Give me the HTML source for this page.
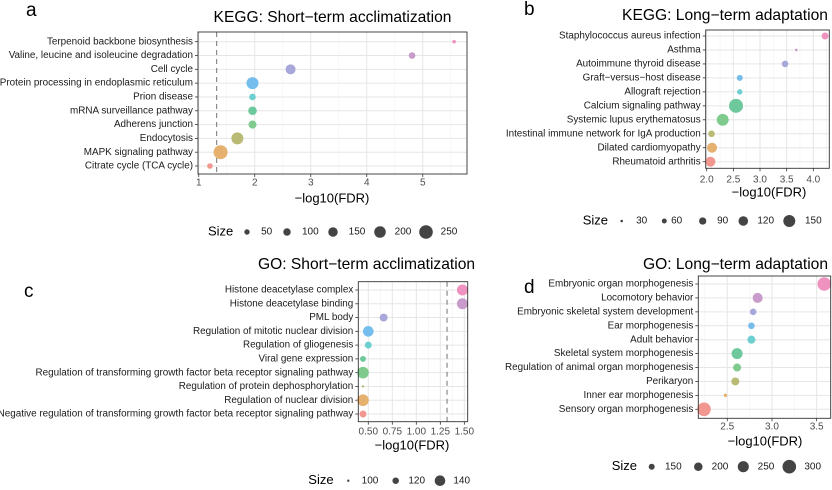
<!DOCTYPE html>
<html><head><meta charset="utf-8">
<style>
html,body{margin:0;padding:0;background:#fff;}
svg{display:block;font-family:"Liberation Sans",Arial,sans-serif;}
</style></head>
<body>
<svg id="chart" width="832" height="490" viewBox="0 0 832 490" xmlns="http://www.w3.org/2000/svg"></svg>
<script>
// ---- Panel a data (top to bottom) ----
const aTerms = ["Terpenoid backbone biosynthesis","Valine, leucine and isoleucine degradation","Cell cycle","Protein processing in endoplasmic reticulum","Prion disease","mRNA surveillance pathway","Adherens junction","Endocytosis","MAPK signaling pathway","Citrate cycle (TCA cycle)"];
const aFDR = [5.56,4.81,2.64,1.96,1.96,1.96,1.96,1.69,1.39,1.2];
const aSize = [5,80,162,211,80,128,114,211,260,55];
const aTicks = [1,2,3,4,5];
const aLegend = [50,100,150,200,250];
// ---- Panel b ----
const bTerms = ["Staphylococcus aureus infection","Asthma","Autoimmune thyroid disease","Graft\u2212versus\u2212host disease","Allograft rejection","Calcium signaling pathway","Systemic lupus erythematosus","Intestinal immune network for IgA production","Dilated cardiomyopathy","Rheumatoid arthritis"];
const bFDR = [4.22,3.68,3.47,2.62,2.62,2.55,2.3,2.09,2.1,2.07];
const bSize = [86,30,81,74,66,176,150,81,125,125];
const bTicks = [2.0,2.5,3.0,3.5,4.0];
const bLegend = [30,60,90,120,150];
// ---- Panel c ----
const cTerms = ["Histone deacetylase complex","Histone deacetylase binding","PML body","Regulation of mitotic nuclear division","Regulation of gliogenesis","Viral gene expression","Regulation of transforming growth factor beta receptor signaling pathway","Regulation of protein dephosphorylation","Regulation of nuclear division","Negative regulation of transforming growth factor beta receptor signaling pathway"];
const cFDR = [1.48,1.48,0.66,0.5,0.5,0.445,0.445,0.445,0.445,0.445];
const cSize = [142,142,127,140,122,117,145,100,145,122];
const cTicks = [0.5,0.75,1.0,1.25,1.5];
const cLegend = [100,120,140];
// ---- Panel d ----
const dTerms = ["Embryonic organ morphogenesis","Locomotory behavior","Embryonic skeletal system development","Ear morphogenesis","Adult behavior","Skeletal system morphogenesis","Regulation of animal organ morphogenesis","Perikaryon","Inner ear morphogenesis","Sensory organ morphogenesis"];
const dFDR = [3.585,2.84,2.79,2.77,2.77,2.61,2.61,2.59,2.48,2.24];
const dSize = [300,229,162,162,190,249,190,190,99,300];
const dTicks = [2.5,3.0,3.5];
const dLegend = [150,200,250,300];

// colours bottom level first
const hues = ["#f2978f","#e6b06f","#b9bb74","#7fcb8d","#6dc89c","#6ecfd0","#74bdec","#a8a7d9","#c99bca","#f092c0"];
const NS = "http://www.w3.org/2000/svg";
const svg = document.getElementById("chart");
function mk(tag, attrs, parent, txt){
  const e = document.createElementNS(NS, tag);
  for (const k in attrs) e.setAttribute(k, attrs[k]);
  if (txt !== undefined) e.textContent = txt;
  (parent || svg).appendChild(e);
  return e;
}

function panel(cfg){
  const g = mk("g", {});
  
  
  const [x0,y0,x1,y1] = cfg.box;
  const xs = v => x0 + (v - cfg.dom[0]) / (cfg.dom[1] - cfg.dom[0]) * (x1 - x0);
  const n = cfg.terms.length;
  const ys = i => cfg.rowTop + i * (cfg.rowBot - cfg.rowTop) / (n - 1);
  const rs = s => Math.max(1, cfg.ra + cfg.rb * s);
  mk("rect", {x:x0,y:y0,width:x1-x0,height:y1-y0,fill:"#fff"}, g);
  const step = cfg.ticks[1] - cfg.ticks[0];
  for (let t = cfg.ticks[0] - step/2; t < cfg.dom[1]; t += step) {
    if (t <= cfg.dom[0]) continue;
    mk("line", {x1:xs(t),x2:xs(t),y1:y0,y2:y1,stroke:"#f2f2f2","stroke-width":0.6}, g);
  }
  cfg.ticks.forEach(t => {
    mk("line", {x1:xs(t),x2:xs(t),y1:y0,y2:y1,stroke:"#e6e6e6","stroke-width":1}, g);
    mk("line", {x1:xs(t),x2:xs(t),y1:y1,y2:y1+3,stroke:"#333","stroke-width":0.8}, g);
    const tl = mk("text", {x:xs(t),y:cfg.tickY,"font-size":"10px",fill:"#4d4d4d","text-anchor":"middle","dominant-baseline":"middle"}, g, cfg.tickFmt(t));
    
    
  });
  cfg.terms.forEach((term, i) => {
    const y = ys(i);
    mk("line", {x1:x0,x2:x1,y1:y,y2:y,stroke:"#e6e6e6","stroke-width":1}, g);
    mk("line", {x1:x0-3,x2:x0,y1:y,y2:y,stroke:"#333","stroke-width":0.8}, g);
    const lab = mk("text", {x:x0-5,y:y,"font-size":"9.9px",fill:"#1a1a1a","text-anchor":"end","dominant-baseline":"middle"}, g, term);
    
    
  });
  if (cfg.dash !== undefined) {
    mk("line", {x1:xs(cfg.dash),x2:xs(cfg.dash),y1:y0,y2:y1,stroke:"#7f7f7f","stroke-width":1.1,"stroke-dasharray":"5,4"}, g);
  }
  cfg.terms.forEach((term, i) => {
    const c = mk("circle", {cx:xs(cfg.vals[i]),cy:ys(i),r:rs(cfg.sizes[i]),fill:hues[n-1-i]}, g);
    
    
  });
  mk("rect", {x:x0,y:y0,width:x1-x0,height:y1-y0,fill:"none",stroke:"#333","stroke-width":0.9}, g);
  const t = mk("text", {x:cfg.titleX,y:cfg.titleY,"font-size":"15.6px",fill:"#000","text-anchor":"middle","dominant-baseline":"middle"}, g, cfg.title);
  
  
  const xt = mk("text", {x:cfg.xtX,y:cfg.xtY,"font-size":"13px",fill:"#000","text-anchor":"middle","dominant-baseline":"middle"}, g, "\u2212log10(FDR)");
  
  
  const pl = mk("text", {x:cfg.letter[0],y:cfg.letter[1],"font-size":"19px",fill:"#000","dominant-baseline":"middle"}, g, cfg.letterText);
  
  
  const lg = mk("g", {}, g);
  
  
  mk("text", {x:cfg.leg.sizeX,y:cfg.leg.y,"font-size":"13px",fill:"#000","dominant-baseline":"middle"}, lg, "Size");
  cfg.legend.forEach((s, i) => {
    const le = mk("g", {}, lg);
    
    
    mk("circle", {cx:cfg.leg.cx[i],cy:cfg.leg.y,r:rs(s),fill:"#444"}, le);
    mk("text", {x:cfg.leg.lx[i],y:cfg.leg.y,"font-size":"10px",fill:"#1a1a1a","text-anchor":"middle","dominant-baseline":"middle"}, le, String(s));
  });
}
const f1 = t => String(t), f1d = t => t.toFixed(1), f2d = t => t.toFixed(2);
panel({name:"panel-a-kegg-short", terms:aTerms, vals:aFDR, sizes:aSize, ticks:aTicks, legend:aLegend,
  box:[198,32,467,174], dom:[0.987,5.79], rowTop:41.7, rowBot:166, ra:1.67, rb:0.0205, tickY:183, tickFmt:f1, dash:1.32,
  title:"KEGG: Short\u2212term acclimatization", titleX:332.5, titleY:18, xtX:332, xtY:199, letter:[26,11], letterText:"a",
  leg:{y:232, sizeX:208, cx:[247,287,333,380,426], lx:[266.7,310.3,357,403,449]}});
panel({name:"panel-b-kegg-long", terms:bTerms, vals:bFDR, sizes:bSize, ticks:bTicks, legend:bLegend,
  box:[705.7,30,829.3,168.3], dom:[1.981,4.30], rowTop:36, rowBot:161.7, ra:0.13, rb:0.039, tickY:180, tickFmt:f1d,
  title:"KEGG: Long\u2212term adaptation", titleX:725, titleY:16, xtX:769, xtY:193, letter:[524,10], letterText:"b",
  leg:{y:221, sizeX:582.7, cx:[621.7,664.3,702.7,743.3,789.3], lx:[641.7,676.7,722.7,765.7,813.3]}});
panel({name:"panel-c-go-short", terms:cTerms, vals:cFDR, sizes:cSize, ticks:cTicks, legend:cLegend,
  box:[358.3,281.7,467.7,421.7], dom:[0.396,1.535], rowTop:290, rowBot:414, ra:-9.05, rb:0.1025, tickY:431.7, tickFmt:f2d, dash:1.32,
  title:"GO: Short\u2212term acclimatization", titleX:366.5, titleY:265, xtX:412, xtY:446, letter:[24,292], letterText:"c",
  leg:{y:480.7, sizeX:308.3, cx:[348.3,395.7,440], lx:[370,416.7,461.7]}});
panel({name:"panel-d-go-long", terms:dTerms, vals:dFDR, sizes:dSize, ticks:dTicks, legend:dLegend,
  box:[698.3,276,830.7,418.3], dom:[2.176,3.657], rowTop:284, rowBot:409.3, ra:-0.8, rb:0.0253, tickY:426.7, tickFmt:f1d,
  title:"GO: Long\u2212term adaptation", titleX:735.5, titleY:265, xtX:765, xtY:442, letter:[524,288], letterText:"d",
  leg:{y:466.7, sizeX:611.7, cx:[651.7,698.3,743.3,789.3], lx:[673.3,720,766,812.7]}});
</script>
</body></html>
